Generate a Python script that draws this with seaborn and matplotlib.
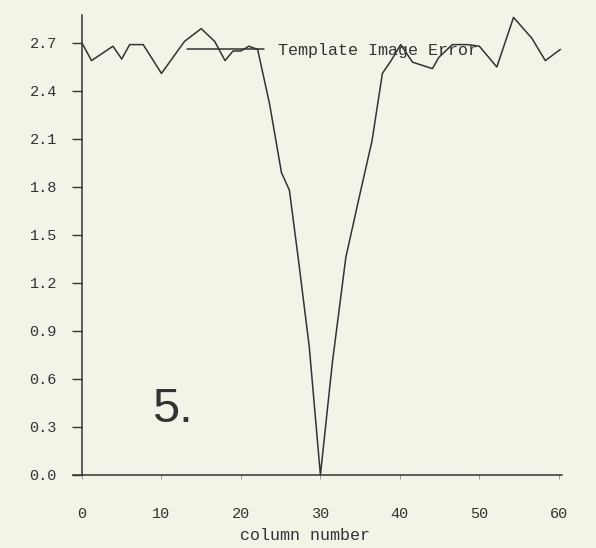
import matplotlib
matplotlib.use("Agg")
import matplotlib.pyplot as plt
import pandas as pd
import seaborn as sns

# traced vertices of the "Template Image Error" curve
column = [0, 1.2, 3.9, 5.0, 6.0, 7.7, 10.0, 12.9, 15.0, 16.7, 18.0, 19.0,
          20.0, 21.0, 22.1, 23.6, 25.1, 26.1, 27.3, 28.6, 30.0, 31.5, 33.2,
          34.9, 36.5, 37.8, 38.9, 40.1, 41.6, 44.1, 44.9, 46.6, 48.5, 50.0,
          52.2, 54.3, 56.6, 58.3, 60.2]
error = [2.70, 2.59, 2.68, 2.60, 2.69, 2.69, 2.51, 2.71, 2.79, 2.71, 2.59,
         2.65, 2.65, 2.68, 2.66, 2.32, 1.89, 1.78, 1.32, 0.80, 0.00, 0.70,
         1.36, 1.74, 2.09, 2.51, 2.59, 2.69, 2.58, 2.54, 2.61, 2.69, 2.69,
         2.68, 2.55, 2.86, 2.73, 2.59, 2.66]
y_ticks = [0.0, 0.3, 0.6, 0.9, 1.2, 1.5, 1.8, 2.1, 2.4, 2.7]
x_ticks = [0, 10, 20, 30, 40, 50, 60]

PAPER = "#f3f4e8"
INK = "#333333"
MONO = ["Liberation Mono", "DejaVu Sans Mono"]

sns.set_style("ticks")
plt.rcParams["font.family"] = MONO

df = pd.DataFrame({"column number": column, "error": error,
                   "series": "Template Image Error"})

fig = plt.figure(figsize=(5.96, 5.48), dpi=100, facecolor=PAPER)
W, H = 596, 548
left, right, top, bottom = 73, 562, 15, 475
ax = fig.add_axes([left / W, 1 - bottom / H, (right - left) / W, (bottom - top) / H])
ax.set_facecolor(PAPER)

sns.lineplot(data=df, x="column number", y="error", hue="series",
             palette=[INK], estimator=None, sort=False, linewidth=1.1, ax=ax)

ax.set_xlim(-1.13, 60.4)
ax.set_ylim(0, 2.875)
ax.spines["right"].set_visible(False)
ax.spines["top"].set_visible(False)
ax.spines["left"].set_position(("data", 0))
for s in ("left", "bottom"):
    ax.spines[s].set_color(INK)
    ax.spines[s].set_linewidth(1.1)

ax.set_yticks(y_ticks)
ax.set_yticklabels([f"{v:.1f}" for v in y_ticks])
ax.set_xticks(x_ticks)
ax.tick_params(axis="y", direction="out", length=7, width=1.0, color=INK,
               labelsize=11, labelcolor=INK, pad=11)
ax.tick_params(axis="x", direction="out", length=3, width=0.6, color="#888888",
               labelsize=11, labelcolor=INK, pad=20)

ax.set_ylabel("")
ax.set_xlabel("column number", fontsize=12, color=INK)
ax.xaxis.set_label_coords((305 - left) / (right - left), -(528 - bottom) / (bottom - top))

leg = ax.legend(loc="center left",
                bbox_to_anchor=((187 - left) / (right - left), (bottom - 50) / (bottom - top)),
                frameon=False, fontsize=12, handlelength=4.6, handletextpad=0.85,
                borderpad=0, borderaxespad=0)
for t in leg.get_texts():
    t.set_color(INK)

fig.text(152 / W, 1 - 422 / H, "5.", family=["Liberation Sans", "DejaVu Sans"],
         fontsize=35, color=INK, va="baseline", ha="left")

fig.savefig("out.png", dpi=100, facecolor=PAPER)
